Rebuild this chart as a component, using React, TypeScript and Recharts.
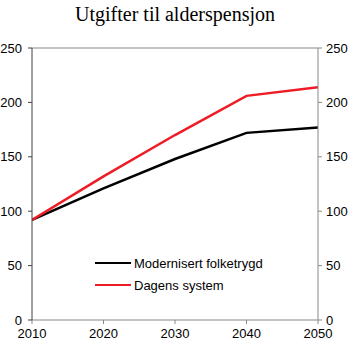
import React from "react";
import { LineChart, Line, XAxis, YAxis, ReferenceLine } from "recharts";

const years = [2010, 2020, 2030, 2040, 2050];
const modernisert = [92, 121, 148, 172, 177];
const dagens = [92, 132, 170, 206, 214];
const yTicks = [0, 50, 100, 150, 200, 250];
const seriesNames = ["Modernisert folketrygd", "Dagens system"];
const seriesColors = ["#000000", "#ee1c25"];

const data = years.map((y, i) => ({ year: y, mod: modernisert[i], dag: dagens[i] }));

const font = "'Liberation Sans', Arial, sans-serif";

export default function App() {
  return (
    <div style={{ position: "absolute", left: 0, top: 0, width: 350, height: 347, background: "#fff" }}>
      <div
        style={{
          position: "absolute",
          top: 3,
          left: 0,
          width: 350,
          textAlign: "center",
          fontFamily: "'Liberation Serif', 'Times New Roman', serif",
          fontSize: 20,
          color: "#000",
        }}
      >
        Utgifter til alderspensjon
      </div>
      <LineChart
        width={350}
        height={347}
        data={data}
        margin={{ top: 48, right: 0, bottom: 0, left: 0 }}
      >
        <XAxis
          dataKey="year"
          type="number"
          domain={[2010, 2050]}
          ticks={years}
          height={27}
          tickSize={4}
          tickMargin={5}
          stroke="#888"
          tick={{ fill: "#000", fontSize: 13, fontFamily: font }}
          allowDataOverflow
        />
        <YAxis
          yAxisId="left"
          orientation="left"
          domain={[0, 250]}
          ticks={yTicks}
          width={32}
          tickSize={4}
          tickMargin={6}
          stroke="#404040"
          tick={{ fill: "#000", fontSize: 13, fontFamily: font }}
        />
        <YAxis
          yAxisId="right"
          orientation="right"
          domain={[0, 250]}
          ticks={yTicks}
          width={32}
          tickSize={4}
          tickMargin={4}
          stroke="#888"
          tick={{ fill: "#000", fontSize: 13, fontFamily: font, textAnchor: "start" }}
        />
        <ReferenceLine yAxisId="left" y={250} stroke="#888" />
        <Line
          yAxisId="left"
          dataKey="mod"
          name={seriesNames[0]}
          stroke={seriesColors[0]}
          strokeWidth={2.5}
          dot={false}
          isAnimationActive={false}
        />
        <Line
          yAxisId="right"
          dataKey="dag"
          name={seriesNames[1]}
          stroke={seriesColors[1]}
          strokeWidth={2.5}
          dot={false}
          isAnimationActive={false}
        />
      </LineChart>
      <div
        style={{
          position: "absolute",
          left: 95,
          top: 252,
          fontFamily: font,
          fontSize: 13,
          color: "#000",
        }}
      >
        {seriesNames.map((n, i) => (
          <div key={n} style={{ display: "flex", alignItems: "center", height: 22 }}>
            <div style={{ width: 36, height: 2.5, background: seriesColors[i], marginRight: 3 }} />
            <span>{n}</span>
          </div>
        ))}
      </div>
    </div>
  );
}
